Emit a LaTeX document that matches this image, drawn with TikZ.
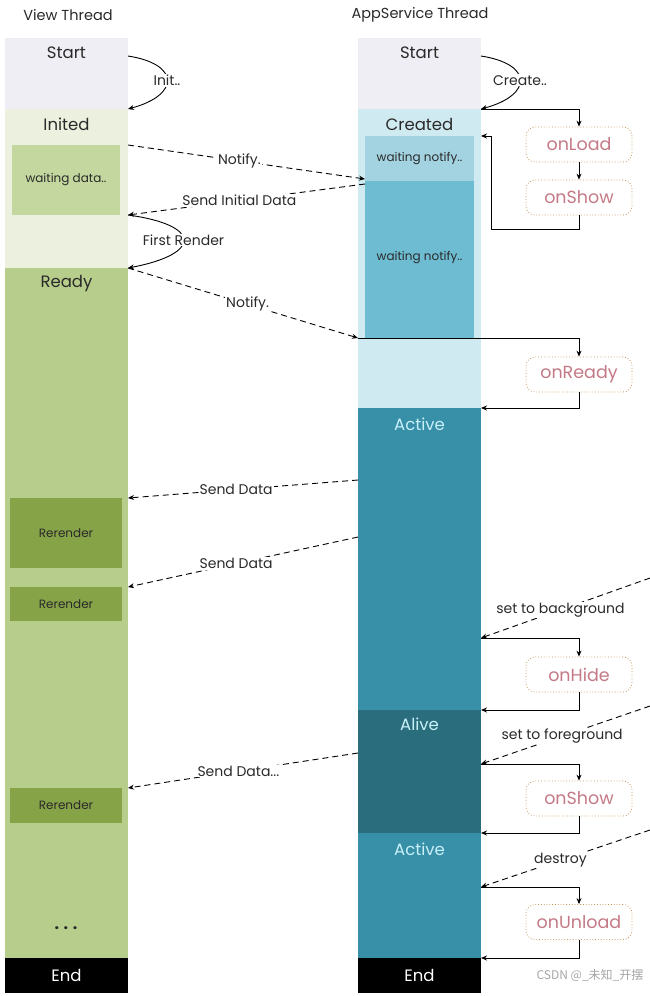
\documentclass[tikz,border=0pt]{standalone}
\usepackage{fontspec}
\setmainfont{Poppins}
\newfontfamily\cjk{Noto Sans CJK SC}
\usetikzlibrary{arrows.meta,positioning}
\definecolor{startgray}{HTML}{EFEEF4}
\definecolor{initgreen}{HTML}{EBF1DE}
\definecolor{waitgreen}{HTML}{C4D79E}
\definecolor{readygreen}{HTML}{B7CD8C}
\definecolor{rendergreen}{HTML}{86A348}
\definecolor{createdblue}{HTML}{D0EAF1}
\definecolor{waitblue}{HTML}{A3D3E1}
\definecolor{waitdeep}{HTML}{6EBCD2}
\definecolor{activeblue}{HTML}{3890A8}
\definecolor{aliveblue}{HTML}{2A6E7E}
\definecolor{darktext}{HTML}{2A2A2A}
\definecolor{lighttext}{HTML}{C8F0F8}
\definecolor{hookline}{HTML}{C8955A}
\definecolor{hooktext}{HTML}{C47A86}
\begin{document}
\begin{tikzpicture}[x=1pt,y=-1pt,>={Stealth[length=6pt,width=5pt]},line width=0.9pt,
    lane/.style={inner sep=0,outer sep=0,minimum width=123pt,anchor=north west},
    inbox/.style={inner sep=0,outer sep=0,anchor=north west},
    title/.style={font=\fontsize{16.5}{16.5}\selectfont,text=darktext},
    small/.style={font=\fontsize{12}{12}\selectfont,text=darktext},
    thread/.style={font=\fontsize{14.5}{14.5}\selectfont,text=darktext},
    msg/.style={font=\fontsize{14}{14}\selectfont,text=darktext,fill=white,inner sep=1pt},
    hook/.style={draw=hookline,line width=0.8pt,dotted,rounded corners=9pt,minimum width=106pt,minimum height=35pt,text=hooktext,font=\fontsize{17.5}{17.5}\selectfont},
    call/.style={->,dash pattern=on 6pt off 4pt},
    back/.style={->,thick}]
  \fill[white] (0,0) rectangle (650,996);
  \useasboundingbox (0,0) rectangle (650,996);
  \node[thread] (vthread) at (68,15) {View Thread};
  \node[thread] (athread) at (420,15) {AppService Thread};
  % view thread
  \node[lane,fill=startgray,minimum height=71pt] (vstart) at (5,38) {};
  \node[lane,fill=initgreen,minimum height=159pt] (vinit) at (5,109) {};
  \node[lane,fill=readygreen,minimum height=690pt] (vready) at (5,268) {};
  \node[lane,fill=black,minimum height=35pt] (vend) at (5,958) {};
  \node[inbox,fill=waitgreen,minimum width=108pt,minimum height=70pt] (vwait) at (12,145) {};
  \node[inbox,fill=rendergreen,minimum width=112pt,minimum height=70pt] (render1) at (10,498) {};
  \node[inbox,fill=rendergreen,minimum width=112pt,minimum height=34pt] (render2) at (10,587) {};
  \node[inbox,fill=rendergreen,minimum width=112pt,minimum height=35pt] (render3) at (10,788) {};
  \node[title] (vstarttxt) at ([shift={(0,15)}]vstart.north) {Start};
  \node[title] (vinittxt) at ([shift={(0,15)}]vinit.north) {Inited};
  \node[title] (vreadytxt) at ([shift={(0,16)}]vready.north) {Ready};
  \node[title,text=white] (vendtxt) at (vend) {End};
  \node[small] (vwaittxt) at (vwait) {waiting data..};
  \node[small] (render1txt) at (render1) {Rerender};
  \node[small] (render2txt) at (render2) {Rerender};
  \node[small] (render3txt) at (render3) {Rerender};
  \node[font=\bfseries\fontsize{16}{16}\selectfont,text=darktext] (vdots) at (66,928) {. . .};
  % appservice thread
  \node[lane,fill=startgray,minimum height=71pt] (astart) at (358,38) {};
  \node[lane,fill=createdblue,minimum height=299pt] (acreated) at (358,109) {};
  \node[lane,fill=activeblue,minimum height=302pt] (aactive) at (358,408) {};
  \node[lane,fill=aliveblue,minimum height=123pt] (aalive) at (358,710) {};
  \node[lane,fill=activeblue,minimum height=125pt] (aback) at (358,833) {};
  \node[lane,fill=black,minimum height=35pt] (aend) at (358,958) {};
  \node[inbox,fill=waitblue,minimum width=109pt,minimum height=45pt] (await) at (365,136) {};
  \node[inbox,fill=waitdeep,minimum width=109pt,minimum height=157pt] (aready) at (365,181) {};
  \node[title] (astarttxt) at ([shift={(0,15)}]astart.north) {Start};
  \node[title] (acreatedtxt) at ([shift={(0,15)}]acreated.north) {Created};
  \node[title,text=lighttext] (aactivetxt) at ([shift={(0,16)}]aactive.north) {Active};
  \node[title,text=lighttext] (aalivetxt) at ([shift={(0,14)}]aalive.north) {Alive};
  \node[title,text=lighttext] (abacktxt) at ([shift={(0,16)}]aback.north) {Active};
  \node[title,text=white] (aendtxt) at (aend) {End};
  \node[small] (awaittxt) at (await) {waiting notify..};
  \node[small] (areadytxt) at ([shift={(0,-2)}]aready) {waiting notify..};
  % lifecycle hooks
  \node[hook] (onload) at (579,144.5) {onLoad};
  \node[hook] (onshow) at (579,197.5) {onShow};
  \node[hook] (onready) at (579,374.5) {onReady};
  \node[hook] (onhide) at (579,674.5) {onHide};
  \node[hook] (onshowb) at (579,798.5) {onShow};
  \node[hook] (onunload) at (579,922) {onUnload};
  \coordinate (loopin) at ([shift={(0,27)}]acreated.north east);
  \coordinate (readyin) at (aready.south -| acreated.west);
  \coordinate (bgin) at ([shift={(0,230)}]aactive.north east);
  \coordinate (fgin) at ([shift={(0,54)}]aalive.north east);
  \coordinate (endin) at ([shift={(0,54)}]aback.north east);
  \coordinate (bgfrom) at (650,578);
  \coordinate (fgfrom) at (650,706);
  \coordinate (endfrom) at (650,830);
  \draw[->] ([shift={(0,18)}]vstart.north east) .. controls +(52,8) and +(52,-14) .. (vinit.north east) node[pos=0.5,msg] (initlbl) {Init..};
  \draw[->] ([shift={(0,18)}]astart.north east) .. controls +(52,8) and +(52,-14) .. (acreated.north east) node[pos=0.5,msg] (createlbl) {Create..};
  \draw[->] (vwait.south -| vinit.east) .. controls +(74,10) and +(74,-14) .. (vready.north east) node[pos=0.5,msg] (renderlbl) {First Render};
  \draw[call] ([shift={(0,36)}]vinit.north east) -- ([shift={(0,-2)}]await.south west) node[pos=0.47,msg] (notifylbl) {Notify.};
  \draw[call] ([shift={(0,3)}]await.south west) -- (vwait.south -| vinit.east) node[pos=0.53,msg] (initdatalbl) {Send Initial Data};
  \draw[call] (vready.north east) -- (readyin) node[pos=0.52,msg] (readylbl) {Notify.};
  \draw[call] ([shift={(0,72)}]aactive.north west) -- (render1.north -| vready.east) node[pos=0.53,msg] (datalbl) {Send Data};
  \draw[call] ([shift={(0,129)}]aactive.north west) -- (render2.north -| vready.east) node[pos=0.53,msg] (datalblb) {Send Data};
  \draw[call] ([shift={(0,43)}]aalive.north west) -- (render3.north -| vready.east) node[pos=0.52,msg] (datalblc) {Send Data...};
  \draw[call] (bgfrom) -- (bgin) node[pos=0.53,msg] (bglbl) {set to background};
  \draw[call] (fgfrom) -- (fgin) node[pos=0.52,msg] (fglbl) {set to foreground};
  \draw[call] (endfrom) -- (endin) node[pos=0.53,msg] (endlbl) {destroy};
  \draw[->] (acreated.north east) -| (onload.north);
  \draw[->] (onload) -- (onshow);
  \draw[->] (onshow.south) -- ++(0,14) -| ([shift={(10,0)}]loopin) -- (loopin);
  \draw[->] (readyin) -| (onready.north);
  \draw[->] (onready.south) |- (aactive.north east);
  \draw[->] (bgin) -| (onhide.north);
  \draw[->] (onhide.south) |- (aalive.north east);
  \draw[->] (fgin) -| (onshowb.north);
  \draw[->] (onshowb.south) |- (aback.north east);
  \draw[->] (endin) -| (onunload.north);
  \draw[->] (onunload.south) |- (aend.north east);
  \node[font=\cjk\fontsize{12}{12}\selectfont,text=black!35] (mark) at (590,975) {CSDN @\_未知\_开摆};
\end{tikzpicture}
\end{document}
